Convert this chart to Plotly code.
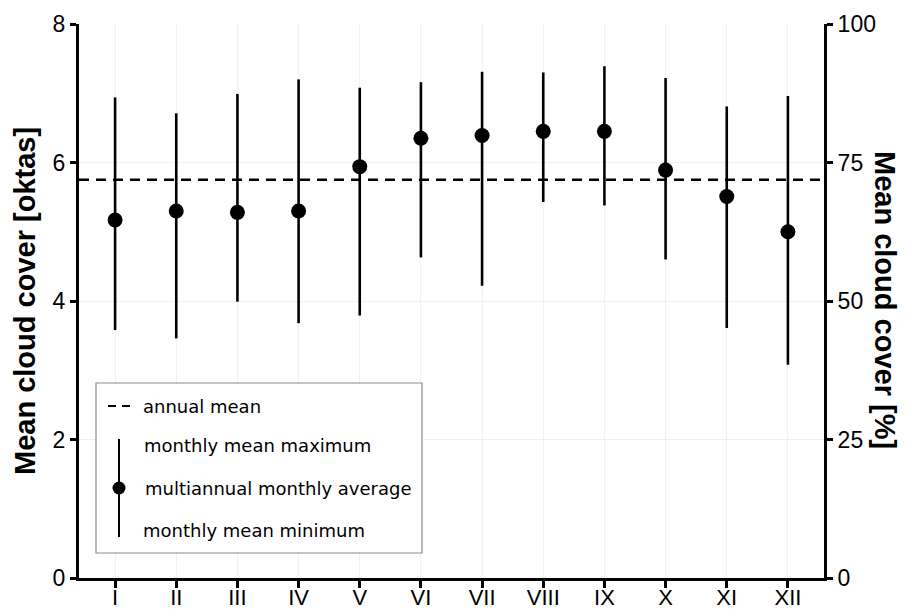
import plotly.graph_objects as go

# ---- data ----
months = ["I", "II", "III", "IV", "V", "VI", "VII", "VIII", "IX", "X", "XI", "XII"]
month_index = list(range(1, 13))
mean_okta = [5.17, 5.30, 5.28, 5.30, 5.94, 6.35, 6.39, 6.45, 6.45, 5.89, 5.51, 5.00]
max_okta = [6.94, 6.71, 6.99, 7.20, 7.08, 7.16, 7.31, 7.30, 7.39, 7.22, 6.81, 6.96]
min_okta = [3.58, 3.46, 3.99, 3.68, 3.79, 4.63, 4.22, 5.43, 5.38, 4.60, 3.61, 3.08]
annual_mean = 5.75
left_ticks = [0, 2, 4, 6, 8]
right_ticks = [0, 25, 50, 75, 100]

OKTA_TO_PCT = 100 / 8

# page body has an 8px margin; the figure is sized to fill the rest of the window
OFF = 8
W, H = 906 - OFF, 609 - OFF
L, T = 79 - OFF, 24 - OFF
R = W - (824 - OFF)
B = H - (578 - OFF)
PW, PH = W - L - R, H - T - B


def px(x):
    return (x - OFF - L) / PW


def py(y):
    return (H - B - (y - OFF)) / PH


err_plus = [mx - m for mx, m in zip(max_okta, mean_okta)]
err_minus = [m - mn for m, mn in zip(mean_okta, min_okta)]

fig = go.Figure()

fig.add_trace(go.Scatter(
    x=month_index, y=mean_okta, mode="markers",
    marker=dict(color="black", size=15),
    error_y=dict(type="data", symmetric=False, array=err_plus, arrayminus=err_minus,
                 color="black", thickness=2.6, width=0),
    showlegend=False, hoverinfo="x+y",
))

# invisible twin on the percentage axis
fig.add_trace(go.Scatter(
    x=month_index, y=[m * OKTA_TO_PCT for m in mean_okta], mode="markers",
    marker=dict(opacity=0, size=1), yaxis="y2", showlegend=False, hoverinfo="skip",
))

shapes = [
    dict(type="line", xref="paper", x0=0, x1=1, yref="y", y0=annual_mean, y1=annual_mean,
         line=dict(color="black", width=2.6, dash="10px,7px"), layer="above"),
    # legend box
    dict(type="rect", xref="paper", yref="paper", x0=px(96), x1=px(422), y0=py(553), y1=py(383),
         line=dict(color="#8a8a8a", width=1.2), fillcolor="white", layer="above"),
    dict(type="line", xref="paper", yref="paper", x0=px(108), x1=px(130), y0=py(406), y1=py(406),
         line=dict(color="black", width=2, dash="8px,6px"), layer="above"),
    dict(type="line", xref="paper", yref="paper", x0=px(119), x1=px(119), y0=py(439), y1=py(537),
         line=dict(color="black", width=2), layer="above"),
    dict(type="circle", xref="paper", yref="paper", x0=px(112.5), x1=px(125.5), y0=py(494.5), y1=py(481.5),
         line=dict(color="black", width=0), fillcolor="black", layer="above"),
]

leg_font = dict(family="DejaVu Sans, Verdana, sans-serif", size=18, color="black")
tick_font = dict(family="Liberation Sans, Arial, sans-serif", size=23, color="black")
xtick_font = dict(family="Liberation Sans, Arial, sans-serif", size=22, color="black")
title_font = dict(family="Liberation Sans, Arial, sans-serif", size=29, color="black")

annotations = []
for text, x, y in [("annual mean", 141, 406), ("monthly mean maximum", 142, 445),
                   ("multiannual monthly average", 143, 488), ("monthly mean minimum", 141, 530)]:
    annotations.append(dict(text=text, xref="paper", yref="paper", x=px(x), y=py(y),
                            xanchor="left", yanchor="middle", showarrow=False, font=leg_font))

annotations.append(dict(text="<b>Mean cloud cover [oktas]</b>", xref="paper", yref="paper",
                        x=px(25), y=py(301), xanchor="center", yanchor="middle",
                        textangle=-90, showarrow=False, font=title_font))
annotations.append(dict(text="<b>Mean cloud cover [%]</b>", xref="paper", yref="paper",
                        x=px(885), y=py(300), xanchor="center", yanchor="middle",
                        textangle=90, showarrow=False, font=title_font))

fig.update_layout(
    width=W, height=H,
    margin=dict(l=L, r=R, t=T, b=B, pad=0),
    paper_bgcolor="white", plot_bgcolor="white",
    shapes=shapes, annotations=annotations,
    xaxis=dict(range=[0.41, 12.59], tickvals=month_index, ticktext=months,
               showgrid=True, gridcolor="#f0f0f0", gridwidth=1, zeroline=False,
               showline=True, linecolor="black", linewidth=3, automargin=False,
               ticks="outside", ticklen=7, tickwidth=2.5, tickcolor="black",
               ticklabelstandoff=-9, tickfont=xtick_font),
    yaxis=dict(range=[0, 8], tickvals=left_ticks, showgrid=True, gridcolor="#f0f0f0",
               zeroline=False, showline=True, linecolor="black", linewidth=3, automargin=False,
               ticks="outside", ticklen=6, tickwidth=2.5, tickcolor="black",
               tickfont=tick_font),
    yaxis2=dict(range=[0, 100], tickvals=right_ticks, overlaying="y", side="right",
                showgrid=False, zeroline=False, showline=True, linecolor="black", linewidth=3,
                automargin=False,
                ticks="outside", ticklen=6, tickwidth=2.5, tickcolor="black",
                tickfont=tick_font),
)

fig.write_html("out.html")
